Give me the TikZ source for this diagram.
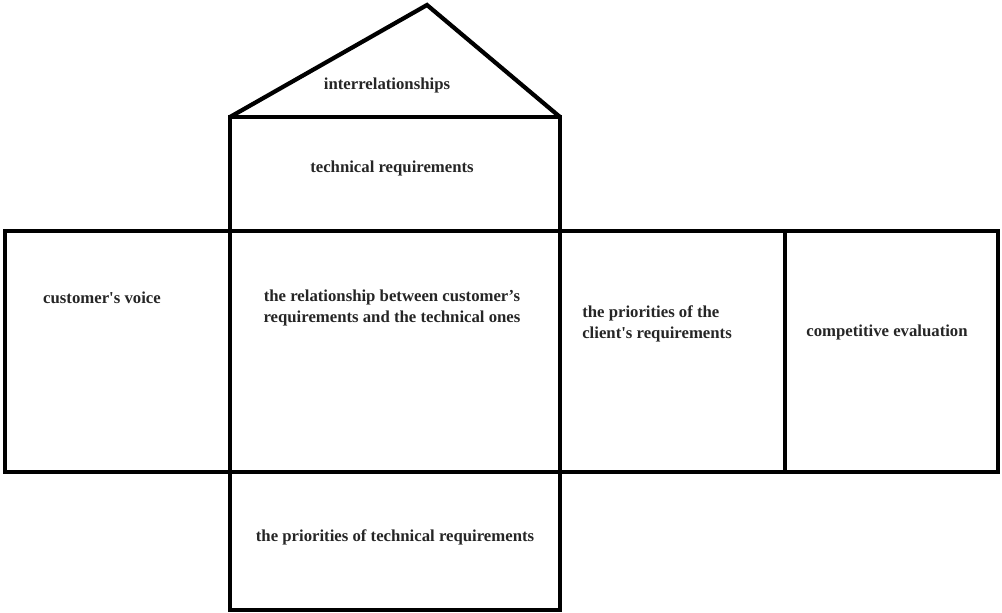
\documentclass[tikz,border=0pt]{standalone}
\usepackage{fontspec}
\setmainfont{Liberation Serif}
\usetikzlibrary{positioning}

\begin{document}
\begin{tikzpicture}[
    x=0.025cm, y=-0.025cm,
    wall/.style={draw, line width=3pt, line join=miter},
    lbl/.style={font=\fontsize{11.9}{15.2}\selectfont\bfseries, text=black!85, inner sep=0pt, align=center},
    lbll/.style={lbl, align=left}
]

\useasboundingbox (0,0) rectangle (1002,613);

% Roof
\draw[wall] (230,117) -- (427,5) -- (560,117);

% Technical requirements
\draw[wall] (230,117) rectangle (560,231);

% Main row
\draw[wall] (5,231) rectangle (230,472);
\draw[wall] (230,231) rectangle (560,472);
\draw[wall] (560,231) rectangle (785,472);
\draw[wall] (785,231) rectangle (998,472);

% Bottom
\draw[wall] (230,472) rectangle (560,610);

% Labels
\node[lbl] (roof) at (387,85) {interrelationships};
\node[lbl] (tech) at (392,168) {technical requirements};
\node[lbl] (voice) at (102,298) {customer\textquotesingle s voice};
\node[lbl] (rel) at (392,308) {the relationship between customer’s\\requirements and the technical ones};
\node[lbll, anchor=west] (client) at (582,324) {the priorities of the\\client\textquotesingle s requirements};
\node[lbl] (comp) at (887,332) {competitive evaluation};
\node[lbl] (techprio) at (395,537) {the priorities of technical requirements};

\end{tikzpicture}
\end{document}
